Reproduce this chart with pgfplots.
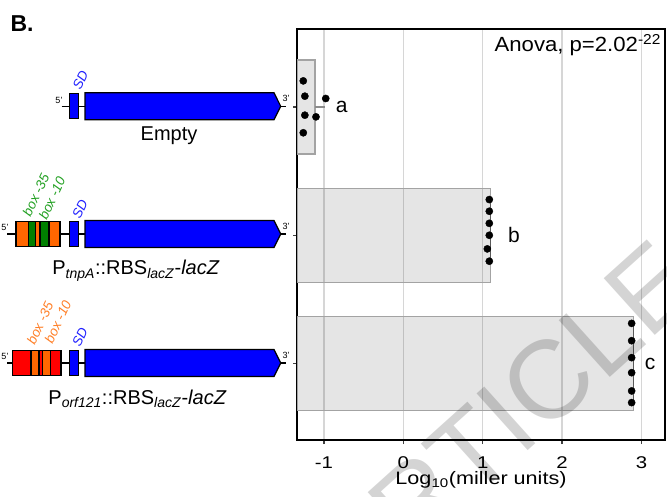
\documentclass[border=0pt]{standalone}
\usepackage{pgfplots}
\pgfplotsset{compat=1.18}
\usepackage{graphicx}
\usepackage{fontspec}
\setmainfont{Liberation Sans}
\definecolor{gblue}{HTML}{0000FF}
\definecolor{gorange}{HTML}{FF6600}
\definecolor{ggreen}{HTML}{007F00}
\definecolor{gred}{HTML}{FF0000}
\definecolor{tgreen}{HTML}{22A022}
\definecolor{torange}{HTML}{FF7F27}
\definecolor{tblue}{HTML}{2020FF}
\definecolor{gridc}{HTML}{D6D6D6}
\definecolor{baredge}{HTML}{A3A3A3}
\newcommand{\fs}[1]{\fontsize{#1}{#1}\selectfont}
\newcommand{\sx}[1]{\scalebox{1.2}[1]{#1}}
\newcommand{\gene}[2]{%
  \draw[line width=1.5pt] (#1,#2) -- (286,#2);
  \filldraw[fill=gblue,line width=1.2pt] (69.3,#2+12.6) rectangle (78.3,#2-12.6);
  \filldraw[fill=gblue,line width=1.2pt] (85,#2+13.5) -- (274,#2+13.5) -- (280.7,#2) -- (274,#2-13.5) -- (85,#2-13.5) -- cycle;
  \node[font=\fs{9}] at (286,#2+8) {3'};
}
\begin{document}
\begin{tikzpicture}
\begin{axis}[
  at={(297pt,-440pt)}, anchor=south west,
  scale only axis, width=368pt, height=411pt,
  xmin=-1.339, xmax=3.296, ymin=0.406, ymax=3.606,
  axis line style={line width=2.4pt, black},
  xtick={-1,0,1,2,3}, xticklabels={\sx{-1},\sx{0},\sx{1},\sx{2},\sx{3}},
  ytick={1,2,3}, yticklabels={},
  xtick pos=left, ytick pos=left,
  tick align=outside, major tick length=4pt,
  tick style={line width=1.5pt, color=black!75},
  xmajorgrids, grid style={line width=1.3pt, color=gridc},
  ticklabel style={font=\fs{17}},
  xticklabel style={yshift=-9pt},
  xlabel={\sx{Log\textsubscript{10}(miller units)}},
  xlabel style={font=\fs{18}, yshift=4pt},
]
% bars (value ends)
\addplot[draw=baredge, line width=1.5pt, fill=black, fill opacity=0.1] coordinates {(-1.339,2.634) (-1.11,2.634) (-1.11,3.366) (-1.339,3.366)} -- cycle;
\addplot[draw=baredge, line width=1.5pt, fill=black, fill opacity=0.1] coordinates {(-1.339,1.634) (1.096,1.634) (1.096,2.366) (-1.339,2.366)} -- cycle;
\addplot[draw=baredge, line width=1.5pt, fill=black, fill opacity=0.1] coordinates {(-1.339,0.634) (2.897,0.634) (2.897,1.366) (-1.339,1.366)} -- cycle;
% spread lines
\addplot[draw=black!45, line width=1.5pt] coordinates {(-1.11,3.0) (-0.99,3.0)};
\addplot[draw=black!65, line width=1.5pt] coordinates {(1.096,1.798) (1.096,2.278)};
\addplot[draw=black!65, line width=1.5pt] coordinates {(2.897,0.697) (2.897,1.314)};
% points
\addplot[only marks, mark=*, mark size=3.6pt, black] coordinates {
 (-1.26,3.202) (-1.24,3.083) (-0.977,3.065) (-1.24,2.935) (-1.10,2.922) (-1.26,2.798)};
\addplot[only marks, mark=*, mark size=3.6pt, black] coordinates {
 (1.083,2.278) (1.083,2.187) (1.083,2.093) (1.083,2.0) (1.058,1.894) (1.083,1.798)};
\addplot[only marks, mark=*, mark size=3.6pt, black] coordinates {
 (2.876,1.314) (2.876,1.179) (2.876,1.047) (2.876,0.930) (2.876,0.788) (2.876,0.697)};
\node[font=\fs{21}] at (axis cs:-0.776,3.0) {a};
\node[font=\fs{21}] at (axis cs:1.394,2.0) {b};
\node[font=\fs{21}] at (axis cs:3.107,1.0) {c};
\end{axis}
\begin{scope}[x=1pt,y=1pt]
\node[anchor=base west, font=\fs{23}\bfseries] at (7,-31.7) {B.};
\node[anchor=base east, font=\fs{20.5}] at (664.5,-51.7) {\scalebox{1.08}[1]{Anova, p=2.02\textsuperscript{-22}}};
% gene 1: empty
\gene{61.7}{-106.3}
\node[font=\fs{9}] at (59,-100) {5'};
\node[rotate=65, font=\fs{13.5}\itshape, text=tblue] at (80.5,-80) {SD};
\node[anchor=base, font=\fs{20}] at (169,-140.7) {Empty};
% gene 2: PtnpA
\gene{7}{-234}
\node[font=\fs{9}] at (5,-227) {5'};
\filldraw[fill=gorange,line width=1.2pt] (16,-221.5) rectangle (60,-246.5);
\filldraw[fill=ggreen,line width=1.2pt] (28.3,-221.5) rectangle (35.7,-246.5);
\filldraw[fill=ggreen,line width=1.2pt] (40,-221.5) rectangle (49,-246.5);
\node[rotate=65, font=\fs{13.5}\itshape, text=tgreen] at (35.8,-195) {box -35};
\node[rotate=65, font=\fs{13.5}\itshape, text=tgreen] at (52,-198.3) {box -10};
\node[rotate=65, font=\fs{13.5}\itshape, text=tblue] at (80,-209) {SD};
\node[anchor=base, font=\fs{20}] at (136,-275) {P\textsubscript{\textit{tnpA}}::RBS\textsubscript{\textit{lacZ}}-\textit{lacZ}};
% gene 3: Porf121
\gene{7}{-363}
\node[font=\fs{9}] at (5,-356) {5'};
\filldraw[fill=gred,line width=1.2pt] (12.7,-350.5) rectangle (61,-375.5);
\filldraw[fill=gorange,line width=1.2pt] (31,-350.5) rectangle (39,-375.5);
\filldraw[fill=gorange,line width=1.2pt] (42.7,-350.5) rectangle (50.7,-375.5);
\node[rotate=65, font=\fs{13.5}\itshape, text=torange] at (40,-323.3) {box -35};
\node[rotate=65, font=\fs{13.5}\itshape, text=torange] at (57.8,-321.7) {box -10};
\node[rotate=65, font=\fs{13.5}\itshape, text=tblue] at (80,-336.7) {SD};
\node[anchor=base, font=\fs{20}] at (137.5,-404) {P\textsubscript{\textit{orf121}}::RBS\textsubscript{\textit{lacZ}}-\textit{lacZ}};
% watermark
\node[rotate=42, font=\fs{111}, text=black, text opacity=0.17] at (505,-420) {ARTICLE};
\end{scope}
\pgfresetboundingbox
\path[use as bounding box] (0pt,0pt) rectangle (667pt,-497pt);
\end{tikzpicture}
\end{document}
